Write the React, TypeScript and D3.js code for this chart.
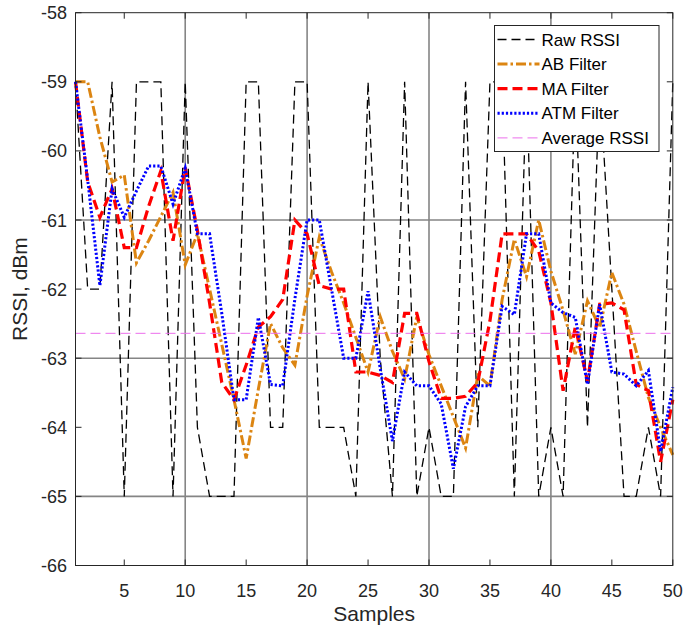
import React from "react";
import * as d3 from "d3";

// RSSI samples (dBm)
const samples = d3.range(1, 51);

const rawRssi = [
  -59, -62, -62, -59, -65, -59, -59, -59, -65, -59,
  -64, -65, -65, -65, -59, -59, -64, -64, -59, -59,
  -64, -64, -64, -65, -59, -63, -65, -59, -65, -64,
  -65, -65, -59, -64, -59, -59, -65, -59, -65, -64,
  -65, -59, -64, -59, -62, -65, -65, -64, -65, -59,
];

const abFilter = [
  -59, -59, -59.8, -60.45, -60.35, -61.62, -61.3, -60.95, -60.6, -61.65,
  -61.2, -62.0, -62.8, -63.6, -64.45, -63.45, -62.5, -62.85, -63.1, -62.1,
  -61.25, -61.75, -62.2, -62.7, -63.2, -62.4, -62.9, -63.3, -62.4, -62.95,
  -63.4, -63.85, -64.3, -63.25, -63.4, -62.15, -61.28, -61.82, -61.0, -61.74,
  -62.31, -62.94, -62.17, -62.56, -61.76, -62.22, -62.9, -63.57, -64.0, -64.4,
];

const maFilter = [
  -59, -60.45, -60.96, -60.55, -61.4, -61.4, -60.8, -60.29, -61.3, -60.24,
  -61.15, -62.2, -63.35, -63.6, -63.1, -62.55, -62.4, -62.15, -61.0, -61.2,
  -61.95, -62.0, -62.0, -63.2, -63.2, -63.25, -63.35, -62.35, -62.35, -63.05,
  -63.58, -63.58, -63.55, -63.35, -62.46, -61.2, -61.2, -61.2, -61.45, -62.2,
  -63.47, -62.55, -63.33, -62.22, -62.2, -62.3, -63.38, -63.47, -64.5, -63.6,
];

const atmFilter = [
  -59, -60.42, -61.95, -60.55, -60.96, -60.58, -60.22, -60.22, -60.77, -60.25,
  -61.2, -61.2, -62.35, -63.6, -63.6, -62.41, -63.38, -63.4, -62.14, -61.0,
  -61.0, -62.0, -63.0, -63.0, -62.03, -63.15, -64.2, -63.2, -63.4, -63.4,
  -63.66, -64.6, -63.7, -63.4, -63.4, -62.25, -62.37, -61.2, -61.2, -62.2,
  -62.34, -62.41, -63.38, -62.22, -63.2, -63.23, -63.4, -63.18, -64.35, -63.42,
];

const avgRssi = -62.64;

const xTicks = [5, 10, 15, 20, 25, 30, 35, 40, 45, 50];
const yTicks = [-58, -59, -60, -61, -62, -63, -64, -65, -66];
const xGrid = [10, 20, 30, 40];
const yGrid = [-61, -63, -65];

const width = 683;
const height = 629;
const left = 75.5;
const right = 672.8;
const top = 12.7;
const bottom = 565.5;
const font = "'Liberation Sans', Arial, Helvetica, sans-serif";
const axisColor = "#262626";
const avgColor = "#ec6eec";

const x = d3.scaleLinear().domain([1, 50]).range([left, right]);
const y = d3.scaleLinear().domain([-66, -58]).range([bottom, top]);

const series = [
  { name: "Raw RSSI", values: rawRssi, color: "#000000", w: 1.3, dash: "9,5" },
  { name: "AB Filter", values: abFilter, color: "#dc8512", w: 3, dash: "10,3,2.5,3" },
  { name: "MA Filter", values: maFilter, color: "#ff0000", w: 3.2, dash: "10,5" },
  { name: "ATM Filter", values: atmFilter, color: "#0000ff", w: 3, dash: "2.2,2" },
];

const lineGen = d3
  .line<number>()
  .x((_, i) => x(samples[i]))
  .y((d) => y(d));

const App = () => {
  const legendX = 494.5;
  const legendY = 25.5;
  const rowH = 24.6;
  const legendItems = [
    ...series,
    { name: "Average RSSI", values: [], color: avgColor, w: 1, dash: "10,5" },
  ];

  return (
    <svg
      width={width}
      height={height}
      style={{ position: "absolute", left: 0, top: 0, background: "#fff" }}
      fontFamily={font}
    >
      {/* grid */}
      {xGrid.map((t) => (
        <line key={"gx" + t} x1={x(t)} x2={x(t)} y1={top} y2={bottom} stroke="#858585" strokeWidth={1.6} />
      ))}
      {yGrid.map((t) => (
        <line key={"gy" + t} x1={left} x2={right} y1={y(t)} y2={y(t)} stroke="#858585" strokeWidth={1.6} />
      ))}

      {series.map((s) => (
        <path
          key={s.name}
          d={lineGen(s.values) || ""}
          fill="none"
          stroke={s.color}
          strokeWidth={s.w}
          strokeDasharray={s.dash}
        />
      ))}

      <line
        x1={x(1)}
        x2={x(50)}
        y1={y(avgRssi)}
        y2={y(avgRssi)}
        stroke={avgColor}
        strokeWidth={1}
        strokeDasharray="10,5"
      />

      {/* box and ticks */}
      <rect x={left} y={top} width={right - left} height={bottom - top} fill="none" stroke={axisColor} strokeWidth={1} />
      {xTicks.map((t) => (
        <g key={"xt" + t}>
          <line x1={x(t)} x2={x(t)} y1={bottom} y2={bottom - 6} stroke={axisColor} />
          <line x1={x(t)} x2={x(t)} y1={top} y2={top + 6} stroke={axisColor} />
          <text x={x(t)} y={597} textAnchor="middle" fontSize={18} fill={axisColor}>
            {t}
          </text>
        </g>
      ))}
      {yTicks.map((t) => (
        <g key={"yt" + t}>
          <line x1={left} x2={left + 6} y1={y(t)} y2={y(t)} stroke={axisColor} />
          <line x1={right} x2={right - 6} y1={y(t)} y2={y(t)} stroke={axisColor} />
          <text x={67} y={y(t) + 6.5} textAnchor="end" fontSize={18} fill={axisColor}>
            {t}
          </text>
        </g>
      ))}

      <text x={(left + right) / 2} y={621} textAnchor="middle" fontSize={21} fill={axisColor}>
        Samples
      </text>
      <text
        transform={`translate(27,${(top + bottom) / 2}) rotate(-90)`}
        textAnchor="middle"
        fontSize={21}
        fill={axisColor}
      >
        RSSI, dBm
      </text>

      {/* legend */}
      <rect x={legendX} y={legendY} width={164.5} height={126} fill="#fff" stroke={axisColor} strokeWidth={1} />
      {legendItems.map((s, i) => {
        const cy = legendY + 14 + i * rowH;
        return (
          <g key={"lg" + s.name}>
            <line
              x1={legendX + 3}
              x2={legendX + 45}
              y1={cy}
              y2={cy}
              stroke={s.color}
              strokeWidth={s.w}
              strokeDasharray={s.dash}
            />
            <text x={legendX + 47} y={cy + 6} fontSize={17} fill="#000">
              {s.name}
            </text>
          </g>
        );
      })}
    </svg>
  );
};

export default App;
